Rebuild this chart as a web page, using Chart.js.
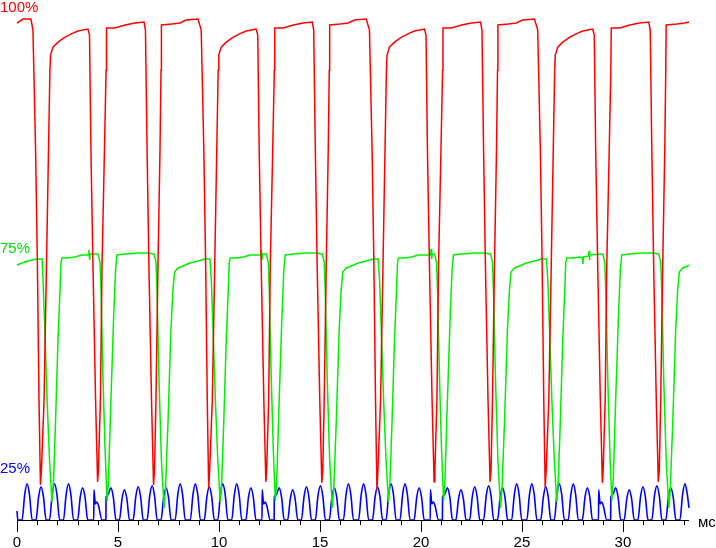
<!DOCTYPE html>
<html>
<head>
<meta charset="utf-8">
<script src="https://cdn.jsdelivr.net/npm/chart.js@4.4.1/dist/chart.umd.min.js"></script>
<style>
  body { margin: 0; background: #fff; }
  canvas { display: block; }
</style>
</head>
<body>
<canvas id="scope" width="716" height="548"></canvas>
<script>
// time in ms, level in % of the drawing height
const red = [
  [0,99.0],[0.30,99.8],[0.69,99.8],
  [0.79,97.6],[0.92,73.7],[1.01,50.8],[1.09,23.9],[1.16,7.0],[1.21,10.0],[1.34,23.9],[1.46,50.8],[1.56,73.7],[1.63,89.6],[1.66,92.6],[1.78,94.2],[2.03,95.2],[2.38,96.2],[2.77,97.0],[3.02,97.4],[3.51,97.8],
  [3.59,96.6],[3.66,73.7],[3.76,50.8],[3.89,23.9],[3.99,7.6],[4.03,10.0],[4.13,23.9],[4.21,50.8],[4.33,73.7],[4.41,89.6],[4.43,98.0],[4.85,98.0],[5.35,98.6],[5.84,99.0],[6.29,99.2],
  [6.36,97.6],[6.44,73.7],[6.53,50.8],[6.66,23.9],[6.76,7.0],[6.81,10.0],[6.88,23.9],[6.98,50.8],[7.08,73.7],[7.13,89.6],[7.15,98.6],[7.67,98.8],[8.07,99.0],[8.37,99.6],[8.96,99.8],
  [9.12,97.6],[9.25,73.7],[9.34,50.8],[9.42,23.9],[9.49,6.4],[9.54,10.0],[9.67,23.9],[9.79,50.8],[9.89,73.7],[9.96,89.6],[9.99,92.6],[10.11,94.2],[10.36,95.2],[10.71,96.2],[11.10,97.0],[11.35,97.4],[11.84,97.8],
  [11.92,96.6],[11.99,73.7],[12.09,50.8],[12.22,23.9],[12.32,7.6],[12.36,10.0],[12.46,23.9],[12.54,50.8],[12.66,73.7],[12.74,89.6],[12.76,98.0],[13.18,98.0],[13.68,98.6],[14.17,99.0],[14.62,99.2],
  [14.69,97.6],[14.77,73.7],[14.86,50.8],[14.99,23.9],[15.09,7.4],[15.14,10.0],[15.21,23.9],[15.31,50.8],[15.41,73.7],[15.46,89.6],[15.48,98.6],[16.00,98.8],[16.40,99.0],[16.70,99.6],[17.29,99.8],
  [17.45,97.6],[17.58,73.7],[17.67,50.8],[17.75,23.9],[17.82,6.0],[17.87,10.0],[18.00,23.9],[18.12,50.8],[18.22,73.7],[18.29,89.6],[18.32,92.6],[18.44,94.2],[18.69,95.2],[19.04,96.2],[19.43,97.0],[19.68,97.4],[20.17,97.8],
  [20.25,96.6],[20.32,73.7],[20.42,50.8],[20.55,23.9],[20.65,7.6],[20.69,10.0],[20.79,23.9],[20.87,50.8],[20.99,73.7],[21.07,89.6],[21.09,98.0],[21.51,98.0],[22.01,98.6],[22.50,99.0],[22.95,99.2],
  [23.02,97.6],[23.10,73.7],[23.19,50.8],[23.32,23.9],[23.42,7.6],[23.47,10.0],[23.54,23.9],[23.64,50.8],[23.74,73.7],[23.79,89.6],[23.81,98.6],[24.33,98.8],[24.73,99.0],[25.03,99.6],[25.62,99.8],
  [25.78,97.6],[25.91,73.7],[26.00,50.8],[26.08,23.9],[26.15,6.4],[26.20,10.0],[26.33,23.9],[26.45,50.8],[26.55,73.7],[26.62,89.6],[26.65,92.6],[26.77,94.2],[27.02,95.2],[27.37,96.2],[27.76,97.0],[28.01,97.4],[28.50,97.8],
  [28.58,96.6],[28.65,73.7],[28.75,50.8],[28.88,23.9],[28.98,7.4],[29.02,10.0],[29.12,23.9],[29.20,50.8],[29.32,73.7],[29.40,89.6],[29.42,98.0],[29.84,98.0],[30.34,98.6],[30.83,99.0],[31.28,99.2],
  [31.35,97.6],[31.43,73.7],[31.52,50.8],[31.65,23.9],[31.75,7.6],[31.80,10.0],[31.87,23.9],[31.97,50.8],[32.07,73.7],[32.12,89.6],[32.14,98.6],[32.66,98.8],[33.06,99.0],[33.27,99.2]
];

const green = [
  [0,50.8],[0.25,51.2],[0.54,51.6],[0.99,52.0],[1.24,52.0],
  [1.29,47.8],[1.36,39.8],[1.49,23.9],[1.61,12.0],[1.73,3.6],[1.81,8.0],[1.91,19.9],[2.03,35.9],[2.13,45.8],[2.18,51.4],[2.23,52.2],[2.52,52.2],[2.87,52.4],[3.22,52.8],[3.54,52.8],[3.56,53.8],[3.59,52.0],[3.61,53.0],[4.01,53.0],
  [4.11,51.4],[4.16,45.8],[4.26,27.9],[4.36,13.9],[4.46,3.8],[4.53,8.0],[4.65,23.9],[4.78,39.8],[4.88,49.8],[4.95,52.8],[5.35,53.0],[5.99,53.2],[6.49,53.2],[6.78,53.0],
  [6.88,51.4],[6.93,45.8],[7.03,27.9],[7.15,12.0],[7.28,2.4],[7.35,6.0],[7.48,19.9],[7.62,37.8],[7.72,45.8],[7.80,49.4],[7.97,50.2],[8.22,50.6],[8.56,51.2],[8.96,51.6],[9.31,52.0],[9.55,52.0],
  [9.62,47.8],[9.69,39.8],[9.82,23.9],[9.94,12.0],[10.06,3.6],[10.14,8.0],[10.24,19.9],[10.36,35.9],[10.46,45.8],[10.51,51.4],[10.56,52.2],[10.85,52.2],[11.20,52.4],[11.55,52.8],[12.08,52.8],[12.10,53.8],[12.13,52.0],[12.15,53.0],[12.34,53.0],
  [12.44,51.4],[12.49,45.8],[12.59,27.9],[12.69,13.9],[12.79,3.8],[12.86,8.0],[12.98,23.9],[13.11,39.8],[13.21,49.8],[13.28,52.8],[13.68,53.0],[14.32,53.2],[14.82,53.2],[15.11,53.0],
  [15.21,51.4],[15.26,45.8],[15.36,27.9],[15.48,12.0],[15.61,2.4],[15.68,6.0],[15.81,19.9],[15.95,37.8],[16.05,45.8],[16.13,49.4],[16.30,50.2],[16.55,50.6],[16.89,51.2],[17.29,51.6],[17.64,52.0],[17.88,52.0],
  [17.95,47.8],[18.02,39.8],[18.15,23.9],[18.27,12.0],[18.39,3.6],[18.47,8.0],[18.57,19.9],[18.69,35.9],[18.79,45.8],[18.84,51.4],[18.89,52.2],[19.18,52.2],[19.53,52.4],[19.88,52.8],[20.48,52.8],[20.50,54.0],[20.53,52.0],[20.55,53.0],[20.67,53.0],
  [20.77,51.4],[20.82,45.8],[20.92,27.9],[21.02,13.9],[21.12,3.8],[21.19,8.0],[21.31,23.9],[21.44,39.8],[21.54,49.8],[21.61,52.8],[22.01,53.0],[22.65,53.2],[23.15,53.2],[23.44,53.0],
  [23.54,51.4],[23.59,45.8],[23.69,27.9],[23.81,12.0],[23.94,2.4],[24.01,6.0],[24.14,19.9],[24.28,37.8],[24.38,45.8],[24.46,49.4],[24.63,50.2],[24.88,50.6],[25.22,51.2],[25.62,51.6],[25.97,52.0],[26.21,52.0],
  [26.28,47.8],[26.35,39.8],[26.48,23.9],[26.60,12.0],[26.72,3.6],[26.80,8.0],[26.90,19.9],[27.02,35.9],[27.12,45.8],[27.17,51.4],[27.22,52.2],[27.51,52.2],[27.86,52.4],[28.00,52.2],[28.02,51.0],[28.04,52.4],[28.30,52.6],[28.32,53.6],[28.34,51.8],[28.36,52.8],[29.00,53.0],
  [29.10,51.4],[29.15,45.8],[29.25,27.9],[29.35,13.9],[29.45,3.8],[29.52,8.0],[29.64,23.9],[29.77,39.8],[29.87,49.8],[29.94,52.8],[30.34,53.0],[30.98,53.2],[31.48,53.2],[31.77,53.0],
  [31.87,51.4],[31.92,45.8],[32.02,27.9],[32.14,12.0],[32.27,2.4],[32.34,6.0],[32.47,19.9],[32.61,37.8],[32.71,45.8],[32.79,49.4],[32.96,50.2],[33.21,50.6],[33.27,50.8]
];

const blue = [
  [0,1.8],[0.04,0],
  [0.25,0],[0.38,5.0],[0.50,7.2],[0.62,5.0],[0.75,0],
  [0.94,0],[1.07,4.6],[1.19,6.6],[1.31,4.6],[1.44,0],
  [1.61,0],[1.74,5.0],[1.86,7.2],[1.98,5.0],[2.11,0],
  [2.30,0],[2.43,5.0],[2.55,7.2],[2.67,5.0],[2.80,0],
  [3.00,0],[3.13,4.5],[3.25,6.4],[3.37,4.5],[3.50,0],
  [3.80,0],[3.81,6.0],[3.88,3.2],[3.96,3.6],[4.04,2.8],[4.21,0],
  [4.40,0],[4.41,4.6],[4.50,5.0],[4.65,6.4],[4.77,4.5],[4.90,0],
  [5.07,0],[5.20,4.2],[5.32,6.0],[5.44,4.2],[5.57,0],
  [5.75,0],[5.88,4.6],[6.00,6.6],[6.12,4.6],[6.25,0],
  [6.44,0],[6.57,4.8],[6.69,6.8],[6.81,4.8],[6.94,0],
  [7.13,0],[7.26,4.5],[7.38,6.4],[7.50,4.5],[7.63,0],
  [7.83,0],[7.96,5.0],[8.08,7.2],[8.20,5.0],[8.33,0],
  [8.58,0],[8.71,5.0],[8.83,7.2],[8.95,5.0],[9.08,0],
  [9.27,0],[9.40,4.6],[9.52,6.6],[9.64,4.6],[9.77,0],
  [9.94,0],[10.07,5.0],[10.19,7.2],[10.31,5.0],[10.44,0],
  [10.63,0],[10.76,5.0],[10.88,7.2],[11.00,5.0],[11.13,0],
  [11.33,0],[11.46,4.5],[11.58,6.4],[11.70,4.5],[11.83,0],
  [12.13,0],[12.14,6.0],[12.21,3.2],[12.29,3.6],[12.37,2.8],[12.54,0],
  [12.73,0],[12.74,4.6],[12.83,5.0],[12.98,6.4],[13.10,4.5],[13.23,0],
  [13.40,0],[13.53,4.2],[13.65,6.0],[13.77,4.2],[13.90,0],
  [14.08,0],[14.21,4.6],[14.33,6.6],[14.45,4.6],[14.58,0],
  [14.77,0],[14.90,4.8],[15.02,6.8],[15.14,4.8],[15.27,0],
  [15.46,0],[15.59,4.5],[15.71,6.4],[15.83,4.5],[15.96,0],
  [16.16,0],[16.29,5.0],[16.41,7.2],[16.53,5.0],[16.66,0],
  [16.91,0],[17.04,5.0],[17.16,7.2],[17.28,5.0],[17.41,0],
  [17.60,0],[17.73,4.6],[17.85,6.6],[17.97,4.6],[18.10,0],
  [18.27,0],[18.40,5.0],[18.52,7.2],[18.64,5.0],[18.77,0],
  [18.96,0],[19.09,5.0],[19.21,7.2],[19.33,5.0],[19.46,0],
  [19.66,0],[19.79,4.5],[19.91,6.4],[20.03,4.5],[20.16,0],
  [20.46,0],[20.47,6.0],[20.54,3.2],[20.62,3.6],[20.70,2.8],[20.87,0],
  [21.06,0],[21.07,4.6],[21.16,5.0],[21.31,6.4],[21.43,4.5],[21.56,0],
  [21.73,0],[21.86,4.2],[21.98,6.0],[22.10,4.2],[22.23,0],
  [22.41,0],[22.54,4.6],[22.66,6.6],[22.78,4.6],[22.91,0],
  [23.10,0],[23.23,4.8],[23.35,6.8],[23.47,4.8],[23.60,0],
  [23.79,0],[23.92,4.5],[24.04,6.4],[24.16,4.5],[24.29,0],
  [24.49,0],[24.62,5.0],[24.74,7.2],[24.86,5.0],[24.99,0],
  [25.24,0],[25.37,5.0],[25.49,7.2],[25.61,5.0],[25.74,0],
  [25.93,0],[26.06,4.6],[26.18,6.6],[26.30,4.6],[26.43,0],
  [26.60,0],[26.73,5.0],[26.85,7.2],[26.97,5.0],[27.10,0],
  [27.29,0],[27.42,5.0],[27.54,7.2],[27.66,5.0],[27.79,0],
  [27.99,0],[28.12,4.5],[28.24,6.4],[28.36,4.5],[28.49,0],
  [28.79,0],[28.80,6.0],[28.87,3.2],[28.95,3.6],[29.03,2.8],[29.20,0],
  [29.39,0],[29.40,4.6],[29.49,5.0],[29.64,6.4],[29.76,4.5],[29.89,0],
  [30.06,0],[30.19,4.2],[30.31,6.0],[30.43,4.2],[30.56,0],
  [30.74,0],[30.87,4.6],[30.99,6.6],[31.11,4.6],[31.24,0],
  [31.43,0],[31.56,4.8],[31.68,6.8],[31.80,4.8],[31.93,0],
  [32.12,0],[32.25,4.5],[32.37,6.4],[32.49,4.5],[32.62,0],
  [32.82,0],[32.95,5.0],[33.07,7.2],[33.19,5.0],[33.27,2.4]
];

const xTickLabels = ['0', '5', '10', '15', '20', '25', '30'];
const xTickValues = [0, 5, 10, 15, 20, 25, 30];
const levelLabels = ['100%', '75%', '25%'];
const levelValues = [101.2, 53.2, 9.4];
const levelColors = ['#ff0000', '#00e000', '#0000ff'];

const FONT = '15px "Liberation Sans", Arial, sans-serif';

// axis, ticks and texts drawn by hand on top of the library scales
const scopeAxis = {
  id: 'scopeAxis',
  afterDatasetsDraw(chart) {
    const { ctx } = chart;
    const x = chart.scales.x, y = chart.scales.y;
    const y0 = Math.round(y.getPixelForValue(0));
    ctx.save();
    ctx.fillStyle = '#000';
    ctx.fillRect(x.left, y0, x.right - x.left, 1);
    for (let v = 0; v <= 33; v++) {
      const px = Math.round(x.getPixelForValue(v));
      ctx.fillRect(px, y0, 1, v % 5 === 0 ? 12 : 5);
    }
    ctx.font = FONT;
    ctx.textBaseline = 'alphabetic';
    ctx.textAlign = 'center';
    xTickLabels.forEach((t, i) => {
      ctx.fillText(t, x.getPixelForValue(xTickValues[i]), y0 + 27);
    });
    ctx.textAlign = 'left';
    ctx.fillText('мс', x.right + 9, y0 + 7);
    levelLabels.forEach((t, i) => {
      ctx.fillStyle = levelColors[i];
      ctx.fillText(t, 0, y.getPixelForValue(levelValues[i]));
    });
    ctx.restore();
  }
};

new Chart(document.getElementById('scope'), {
  type: 'line',
  data: {
    datasets: [
      { data: red, borderColor: '#ff0000', borderWidth: 1.5, clip: false },
      { data: green, borderColor: '#00f000', borderWidth: 1.5, clip: false },
      { data: blue, borderColor: '#0000ff', borderWidth: 1.6, clip: false, cubicInterpolationMode: 'monotone' }
    ]
  },
  options: {
    responsive: false,
    animation: false,
    devicePixelRatio: 1,
    layout: { padding: { left: 17, right: 27, top: 18, bottom: 28 } },
    elements: { point: { radius: 0 }, line: { tension: 0 } },
    scales: {
      x: { type: 'linear', min: 0, max: 33.27, display: false },
      y: { min: 0, max: 100, display: false }
    },
    plugins: { legend: { display: false }, tooltip: { enabled: false } }
  },
  plugins: [scopeAxis]
});
</script>
</body>
</html>
